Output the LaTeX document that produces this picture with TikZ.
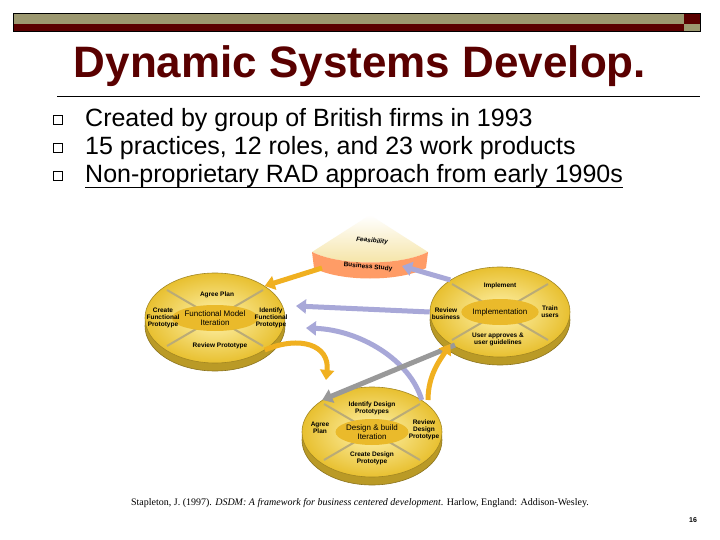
\documentclass[tikz,border=0pt]{standalone}
\usepackage{fontspec}
\setmainfont{Liberation Sans}
\newfontfamily\serifx{Liberation Serif}
\usetikzlibrary{arrows.meta,shapes.geometric}
\definecolor{dred}{HTML}{5A0000}
\definecolor{olive}{HTML}{9C9870}
\definecolor{gold}{HTML}{E8C030}
\definecolor{lgold}{HTML}{FFF4B0}
\definecolor{arrgold}{HTML}{F0B020}
\definecolor{lav}{HTML}{A8A8D8}
\tikzset{
 disk/.style={ellipse,minimum width=140pt,minimum height=90pt,inner color=lgold,outer color=gold,draw=gold!70!black,line width=0.6pt},
 rim/.style={ellipse,minimum width=140pt,minimum height=90pt,fill=gold!80!black,draw=gold!60!black,line width=0.6pt},
 core/.style={ellipse,fill=gold!90!orange,minimum width=70pt,minimum height=26pt,font=\fontsize{8}{9}\selectfont,align=center,inner sep=0pt},
 lab/.style={font=\bfseries\fontsize{6.5}{7}\selectfont,align=center,inner sep=0pt},
 bul/.style={anchor=west,font=\fontsize{25}{28}\selectfont,inner sep=0pt},
 fat/.style={line width=5pt,-{Triangle[length=10pt,width=14pt]}},
}
\begin{document}
\begin{tikzpicture}[x=1pt,y=-1pt]
\useasboundingbox (0,0) rectangle (720,540);
\fill[white] (0,0) rectangle (720,540);
% header bars
\fill[olive] (13,13) rectangle (684,24);
\fill[dred] (13,24) rectangle (684,31);
\fill[dred] (684,13) rectangle (700,24);
\fill[olive] (684,24) rectangle (700,31);
\draw[black,line width=0.5pt] (13,13) rectangle (700,31);
\node[font=\bfseries\fontsize{44}{48}\selectfont,text=dred] (title) at (360,66) {Dynamic Systems Develop.};
\draw[line width=0.7pt] (57,96) -- (700,96);
% bullets
\foreach \y/\t [count=\i] in {120/Created by group of British firms in 1993,148/{15 practices, 12 roles, and 23 work products},176/Non-proprietary RAD approach from early 1990s}{
  \node[draw,minimum size=9pt,inner sep=0pt,line width=0.6pt] (b\i) at (58,\y) {};
  \node[bul] (t\i) at (85,\y) {\t};
}
\draw[line width=0.6pt] (85,187) -- (t3.east |- 0,187);
% cone
\shade[top color=white,bottom color=gold!45] (370,215) -- (312,252) .. controls (340,266) and (400,266) .. (428,252) -- cycle;
\fill[orange!70!red!60] (312,252) .. controls (340,266) and (400,266) .. (428,252) -- (426,268) .. controls (400,282) and (340,282) .. (314,268) -- cycle;
\node[lab,rotate=-5] (feas) at (372,241) {\itshape Feasibility};
\node[lab,rotate=-5] (bs) at (368,267) {Business Study};
% disks
\node[rim] (Lr) at (215,326) {};
\node[rim] (Rr) at (500,320) {};
\node[rim] (Br) at (372,440) {};
\node[disk] (L) at (215,318) {};
\node[disk] (R) at (500,312) {};
\node[disk] (B) at (372,432) {};
\foreach \d in {L,R,B}{
  \draw[gold!60!black!60,line width=2pt] ([shift={(-48,-28)}]\d.center) -- ([shift={(48,28)}]\d.center);
  \draw[gold!60!black!60,line width=2pt] ([shift={(48,-28)}]\d.center) -- ([shift={(-48,28)}]\d.center);
}
\node[core] (Lc) at (L) {Functional Model\\Iteration};
\node[core] (Rc) at (R) {Implementation};
\node[core] (Bc) at (B) {Design \& build\\Iteration};
\node[lab] at (217,295) {Agree Plan};
\node[lab] at (163,318) {Create\\Functional\\Prototype};
\node[lab] at (271,318) {Identify\\Functional\\Prototype};
\node[lab] at (220,346) {Review Prototype};
\node[lab] at (500,286) {Implement};
\node[lab] at (446,314) {Review\\business};
\node[lab] at (550,312) {Train\\users};
\node[lab] at (498,339) {User approves \&\\user guidelines};
\node[lab] at (372,408) {Identify Design\\Prototypes};
\node[lab] at (320,428) {Agree\\Plan};
\node[lab] at (424,430) {Review\\Design\\Prototype};
\node[lab] at (372,458) {Create Design\\Prototype};
% arrows
\draw[fat,arrgold] (322,268) -- (L.north east);
\draw[fat,lav] (R.north west) -- (402,266);
\draw[fat,lav] (R.west) -- (296,306);
\draw[fat,lav] (B.north east) .. controls (410,360) and (360,330) .. (306,328);
\draw[fat,gray!80] (455,345) -- (B.north west);
\draw[fat,arrgold] (L.south east) .. controls (300,335) and (330,345) .. (326,380);
\draw[fat,arrgold] (428,400) .. controls (428,375) and (440,360) .. (R.south west);
% citation
\node[font=\serifx\fontsize{10}{12}\selectfont] (cite) at (360,503) {Stapleton, J. (1997). \textit{DSDM: A framework for business centered development}. Harlow, England: Addison-Wesley.};
\node[font=\bfseries\fontsize{7}{8}\selectfont] (pg) at (693,520) {16};
\end{tikzpicture}
\end{document}
